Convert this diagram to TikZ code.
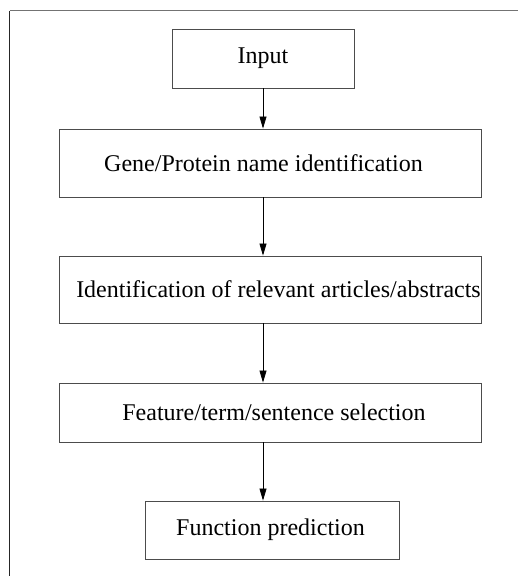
\documentclass[tikz,border=0pt]{standalone}
\usepackage{fontspec}
\setmainfont{Liberation Serif}
\usetikzlibrary{arrows.meta}
\begin{document}
\begin{tikzpicture}[x=1pt,y=-1pt,
  stagebox/.style={draw=black!70, line width=0.9pt, rectangle, inner sep=0pt,
    font=\fontsize{24}{28}\selectfont},
  flowarrow/.style={draw=black, line width=0.8pt,
    -{Triangle[length=12pt,width=7pt]}}]
  \useasboundingbox (0,0) rectangle (518,576);
  % outer frame (only its left and top sides fall inside the page)
  \draw[black!85, line width=1pt] (9.5,576) -- (9.5,10.5);
  \draw[black!55, line width=1.2pt] (9.5,10.5) -- (518,10.5);

  % processing stages
  \node[stagebox, minimum width=182pt, minimum height=59pt] (input) at (263,58.5) {\raisebox{-1.5pt}{Input}};
  \node[stagebox, minimum width=422pt, minimum height=68pt] (gene) at (270,163)
    {Gene/Protein name identification\hspace*{13pt}};
  \node[stagebox, minimum width=422pt, minimum height=67pt] (ident) at (270,289.5)
    {\hspace*{17pt}Identification of relevant articles/abstracts};
  \node[stagebox, minimum width=422pt, minimum height=59pt] (feat) at (270,412.5)
    {\hspace*{8pt}Feature/term/sentence selection};
  \node[stagebox, minimum width=254pt, minimum height=58pt] (func) at (272,530)
    {Function prediction\hspace*{3pt}};

  % connectors run on one vertical line
  \coordinate (axis) at (263,0);
  \draw[flowarrow] (input.south) -- (gene.north -| axis);
  \draw[flowarrow] (gene.south -| axis) -- (ident.north -| axis);
  \draw[flowarrow] (ident.south -| axis) -- (feat.north -| axis);
  \draw[flowarrow] (feat.south -| axis) -- (func.north -| axis);
\end{tikzpicture}
\end{document}
